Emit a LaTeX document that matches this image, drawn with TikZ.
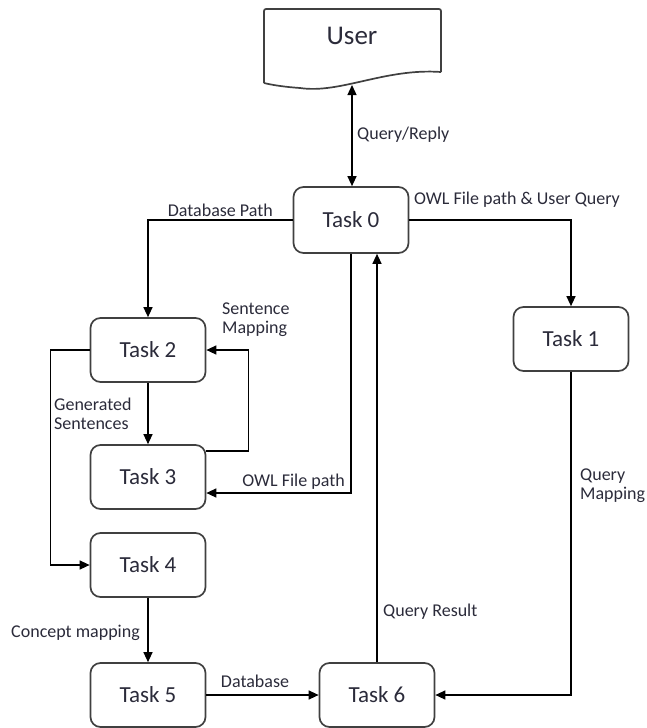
\documentclass[tikz,border=0pt]{standalone}
\usepackage{fontspec}
\setmainfont{Carlito}
\usetikzlibrary{arrows.meta}
\definecolor{txt}{HTML}{2B2B3A}
\definecolor{ln}{HTML}{404040}
\begin{document}
\begin{tikzpicture}[x=1pt,y=1pt,
  task/.style={draw=ln, line width=1.7pt, rounded corners=10pt, minimum width=115pt, minimum height=64pt, font=\fontsize{23}{27}\selectfont, text=txt, inner sep=0pt},
  conn/.style={draw=black, line width=1.3pt, -{Triangle[length=10pt,width=9pt]}},
  lbl/.style={font=\fontsize{18}{19}\selectfont, text=txt, inner sep=0pt, align=left}]
\useasboundingbox (0,0) rectangle (646,-728);
% User (document shape)
\draw[draw=ln, line width=1.7pt, rounded corners=2pt] (264,-83) -- (264,-9) -- (441,-9) -- (441,-72);
\draw[draw=ln, line width=1.7pt] (441,-72) .. controls (385,-68) and (340,-94) .. (300,-88) .. controls (285,-87) and (272,-85) .. (264,-83);
\node[font=\fontsize{27}{32}\selectfont, text=txt] (user) at (352,-36) {User};
\coordinate (userb) at (352,-85);
% tasks
\node[task, minimum height=66pt] (t0) at (351,-220) {Task 0};
\node[task] (t1) at (571,-339) {Task 1};
\node[task] (t2) at (148,-350) {Task 2};
\node[task] (t3) at (148,-477) {Task 3};
\node[task] (t4) at (148,-565) {Task 4};
\node[task] (t5) at (148,-695) {Task 5};
\node[task] (t6) at (377,-695) {Task 6};
% connectors
\draw[conn, {Triangle[length=10pt,width=9pt]}-{Triangle[length=10pt,width=9pt]}] (userb) -- (userb |- t0.north);
\node[lbl, anchor=west] (lqr) at (357,-135) {Query/Reply};
\draw[conn] (t0.west) -| (t2.north);
\node[lbl, anchor=base east] (ldb) at (273,-216) {Database Path};
\draw[conn] (t0.east) -| (t1.north);
\node[lbl, anchor=base west] (lowl) at (414,-204) {OWL File path \& User Query};
\draw[conn] (t0.south) |- ([yshift=-16pt]t3.east);
\node[lbl, anchor=base east] (lowl2) at (345,-486) {OWL File path};
\draw[conn] (t6.north) -- (t6.north |- t0.south);
\node[lbl, anchor=base west] (lqres) at (383,-616) {Query Result};
\draw[conn] (t1.south) |- (t6.east);
\node[lbl, anchor=west] (lqm) at (580,-486) {Query\\Mapping};
\draw[conn] (t2.west) -- ++(-39,0) |- (t4.west);
\draw[conn] (t2.south) -- (t3.north);
\node[lbl, anchor=west] (lgs) at (54,-414) {Generated\\Sentences};
\draw[conn] ([yshift=26pt]t3.east) -- ++(42,0) |- (t2.east);
\node[lbl, anchor=west] (lsm) at (222,-320) {Sentence\\Mapping};
\draw[conn] (t4.south) -- (t5.north);
\node[lbl, anchor=base east] (lcm) at (140,-637) {Concept mapping};
\draw[conn] (t5.east) -- (t6.west);
\node[lbl, anchor=base] (ldb2) at (255,-687) {Database};
\end{tikzpicture}
\end{document}
